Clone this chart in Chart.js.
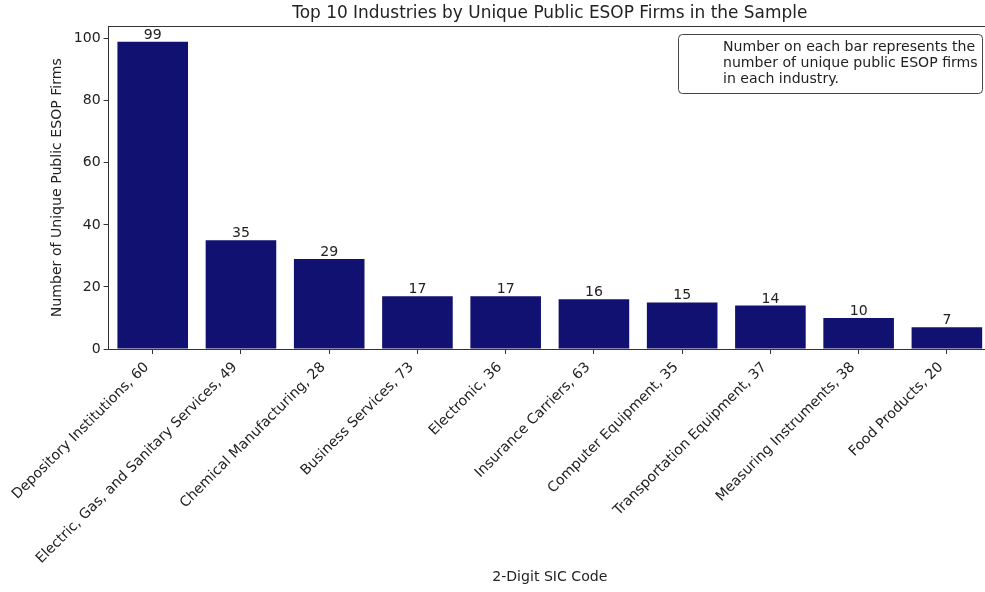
<!DOCTYPE html>
<html>
<head>
<meta charset="utf-8">
<script src="https://cdn.jsdelivr.net/npm/chart.js@4/dist/chart.umd.min.js"></script>
<style>
  html, body { margin: 0; padding: 0; background: #ffffff; overflow: hidden; }
  #wrap { width: 985px; height: 592px; position: relative; overflow: hidden; }
  #c { display: block; }
</style>
</head>
<body>
<div id="wrap"><canvas id="c" width="991" height="592"></canvas></div>
<script>
const categories = [
  "Depository Institutions, 60",
  "Electric, Gas, and Sanitary Services, 49",
  "Chemical Manufacturing, 28",
  "Business Services, 73",
  "Electronic, 36",
  "Insurance Carriers, 63",
  "Computer Equipment, 35",
  "Transportation Equipment, 37",
  "Measuring Instruments, 38",
  "Food Products, 20"
];
const firmCounts = [99, 35, 29, 17, 17, 16, 15, 14, 10, 7];
const yTicks = [0, 20, 40, 60, 80, 100];
const titleText = "Top 10 Industries by Unique Public ESOP Firms in the Sample";
const xTitle = "2-Digit SIC Code";
const yTitle = "Number of Unique Public ESOP Firms";
const noteLines = [
  "Number on each bar represents the",
  "number of unique public ESOP firms",
  "in each industry."
];

const FONT = "'DejaVu Sans', sans-serif";
const FS = 14.1;
const TXT = '#222222';
const AX = '#333333';

const barLabels = {
  id: 'barLabels',
  afterDatasetsDraw(chart) {
    const ctx = chart.ctx;
    const meta = chart.getDatasetMeta(0);
    ctx.save();
    ctx.font = FS + "px " + FONT;
    ctx.fillStyle = TXT;
    ctx.textAlign = 'center';
    ctx.textBaseline = 'alphabetic';
    meta.data.forEach((bar, i) => {
      ctx.fillText(String(firmCounts[i]), bar.x, bar.y - 3);
    });
    ctx.restore();
  }
};

const frameAndNote = {
  id: 'frameAndNote',
  afterDraw(chart) {
    const ctx = chart.ctx;
    const a = chart.chartArea;
    ctx.save();
    ctx.strokeStyle = AX;
    ctx.lineWidth = 1;
    ctx.beginPath();
    ctx.moveTo(a.left, Math.round(a.top) + 0.5);
    ctx.lineTo(a.right, Math.round(a.top) + 0.5);
    ctx.stroke();

    // note box
    const x = 678.5, y = 34.5, w = 304, h = 59, r = 4;
    ctx.fillStyle = 'rgba(255,255,255,0.85)';
    ctx.strokeStyle = '#444444';
    ctx.beginPath();
    ctx.moveTo(x + r, y);
    ctx.lineTo(x + w - r, y);
    ctx.quadraticCurveTo(x + w, y, x + w, y + r);
    ctx.lineTo(x + w, y + h - r);
    ctx.quadraticCurveTo(x + w, y + h, x + w - r, y + h);
    ctx.lineTo(x + r, y + h);
    ctx.quadraticCurveTo(x, y + h, x, y + h - r);
    ctx.lineTo(x, y + r);
    ctx.quadraticCurveTo(x, y, x + r, y);
    ctx.closePath();
    ctx.fill();
    ctx.stroke();

    ctx.font = FS + "px " + FONT;
    ctx.fillStyle = TXT;
    ctx.textAlign = 'left';
    ctx.textBaseline = 'middle';
    noteLines.forEach((t, i) => ctx.fillText(t, 723, 47 + i * 16));
    ctx.restore();
  }
};

new Chart(document.getElementById('c'), {
  type: 'bar',
  data: {
    labels: categories,
    datasets: [{
      data: firmCounts,
      backgroundColor: '#111172',
      borderWidth: 0,
      barPercentage: 0.8,
      categoryPercentage: 1.0
    }]
  },
  options: {
    responsive: false,
    animation: false,
    devicePixelRatio: 1,
    layout: { padding: 0 },
    plugins: {
      legend: { display: false },
      tooltip: { enabled: false },
      title: {
        display: true,
        text: titleText,
        fullSize: false,
        color: TXT,
        font: { family: FONT, size: 16.95, weight: 'normal', lineHeight: 1.2 },
        padding: { top: 3, bottom: 3 }
      }
    },
    scales: {
      x: {
        offset: true,
        afterFit(s) { s.height = 243; },
        grid: { drawOnChartArea: false, drawTicks: true, tickLength: 5, color: AX, offset: false },
        border: { display: true, color: AX, width: 1 },
        ticks: {
          autoSkip: false, minRotation: 45, maxRotation: 45,
          color: TXT, padding: 5, labelOffset: -6,
          font: { family: FONT, size: FS }
        },
        title: {
          display: true, text: xTitle, color: TXT,
          font: { family: FONT, size: FS },
          padding: { top: 0, bottom: 6.5 }
        }
      },
      y: {
        min: 0, max: 103.95,
        afterFit(s) { s.width = 108.6; },
        afterBuildTicks(s) { s.ticks = yTicks.map(v => ({ value: v })); },
        grid: { drawOnChartArea: false, drawTicks: true, tickLength: 5, color: AX },
        border: { display: true, color: AX, width: 1 },
        ticks: {
          color: TXT, padding: 3,
          font: { family: FONT, size: FS }
        },
        title: {
          display: true, text: yTitle, color: TXT,
          font: { family: FONT, size: FS },
          padding: { top: 48.5, bottom: 0 }
        }
      }
    }
  },
  plugins: [barLabels, frameAndNote]
});
</script>
</body>
</html>
